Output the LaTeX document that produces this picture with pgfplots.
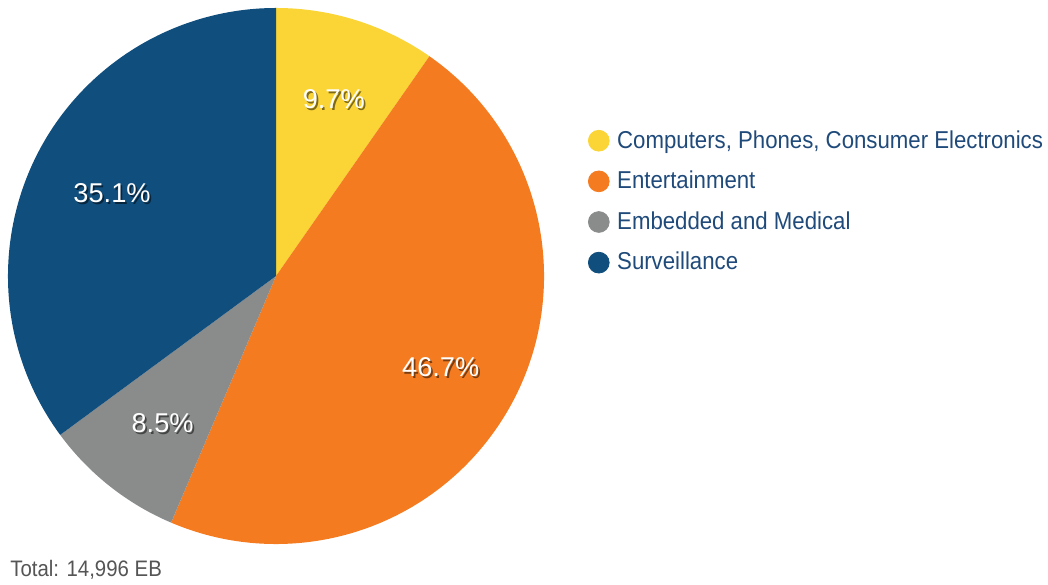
\documentclass[border=0pt]{standalone}
\usepackage{fontspec}
\setmainfont{Liberation Sans}
\newfontfamily\condfont{Liberation Sans}[FakeStretch=0.91]
\usepackage{pgfplots}
\usepackage{pgfplotstable}
\usetikzlibrary{calc}
\pgfplotsset{compat=1.18}

\definecolor{slice0}{HTML}{FBD535}
\definecolor{slice1}{HTML}{F57B20}
\definecolor{slice2}{HTML}{8A8C8B}
\definecolor{slice3}{HTML}{104E7D}
\definecolor{legendtext}{HTML}{1F4A7A}
\definecolor{totaltext}{HTML}{555555}

% share of the 14,996 EB total, clockwise from 12 o'clock
\pgfplotstableread[col sep=comma]{
name,value
{Computers, Phones, Consumer Electronics},9.7
Entertainment,46.7
Embedded and Medical,8.5
Surveillance,35.1
}\piedata

\begin{document}
\begin{tikzpicture}
\begin{axis}[
    x=0.5bp, y=0.5bp,
    xmin=0, xmax=1048, ymin=0, ymax=584,
    hide axis, clip=false,
    legend style={draw=none, fill=none, at={(axis cs:587.6,458)}, anchor=north west,
        font=\condfont\fontsize{12.2bp}{14bp}\selectfont, text=legendtext,
        row sep=6bp, inner xsep=0pt, inner ysep=0pt},
    legend cell align=left,
    legend image code/.code={\fill[#1] (5.2bp,0bp) circle (5.2bp);
        \path[draw=none, fill=none] (0bp,0bp) rectangle (12.4bp,0.1bp);},
]
\addlegendimage{slice0}\addlegendentry{Computers, Phones, Consumer Electronics}
\addlegendimage{slice1}\addlegendentry{Entertainment}
\addlegendimage{slice2}\addlegendentry{Embedded and Medical}
\addlegendimage{slice3}\addlegendentry{Surveillance}

\pgfplotsextra{
  \pgfplotstablegetrowsof{\piedata}
  \pgfmathtruncatemacro\lastrow{\pgfplotsretval-1}
  \gdef\startang{90}
  \foreach \i in {0,...,\lastrow}{
    \pgfplotstablegetelem{\i}{value}\of\piedata
    \let\val\pgfplotsretval
    \pgfmathsetmacro\endang{\startang-3.6*\val}
    \pgfmathsetmacro\midang{(\startang+\endang)/2}
    \fill[color=slice\i] (axis cs:276,308) -- ++(\startang:134bp)
        arc[start angle=\startang, end angle=\endang, radius=134bp] -- cycle;
    \node[text=black, opacity=0.5, font=\fontsize{13.6bp}{15bp}\selectfont]
        at ($(axis cs:278,307)+(\midang:93bp)+(0.9bp,-0.9bp)$) {\val\%};
    \node[text=white, font=\fontsize{13.6bp}{15bp}\selectfont]
        at ($(axis cs:278,307)+(\midang:93bp)$) {\val\%};
    \xdef\startang{\endang}
  }
  \node[anchor=west, inner sep=0pt, text=totaltext,
        font=\condfont\fontsize{11.2bp}{13bp}\selectfont]
      at (axis cs:10,14) {Total: 14,996 EB};
}
\end{axis}
\pgfresetboundingbox
\path (current axis.south west) rectangle (current axis.north east);
\end{tikzpicture}
\end{document}
